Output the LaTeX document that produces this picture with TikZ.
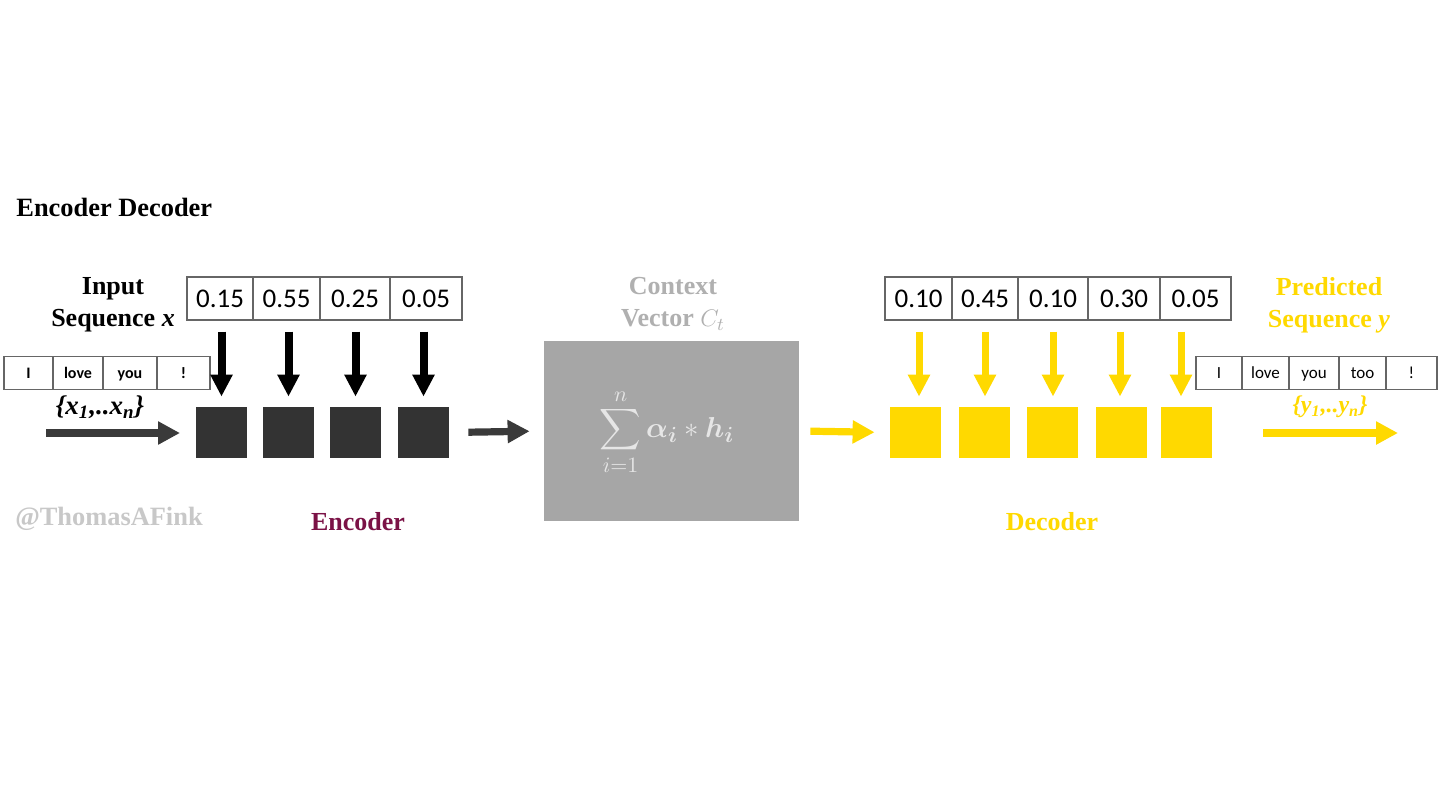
\documentclass[tikz,border=0pt]{standalone}
\usepackage{amsmath,bm}
\usepackage{fontspec}
\setmainfont{Liberation Serif}
\newfontfamily\calib{Carlito}
\usetikzlibrary{arrows.meta}
\definecolor{sqdark}{HTML}{333333}
\definecolor{arrdark}{HTML}{3A3A3A}
\definecolor{ylw}{HTML}{FFD900}
\definecolor{ctxbox}{HTML}{A6A6A6}
\definecolor{ctxtxt}{HTML}{B0B0B0}
\definecolor{formtxt}{HTML}{E6E6E6}
\definecolor{wmark}{HTML}{C8C8C8}
\definecolor{maroon}{HTML}{7B1246}
\definecolor{cellline}{HTML}{666666}
\tikzset{
  valcell/.style={draw=cellline, line width=0.6pt, inner sep=0pt, minimum height=21.5pt, font=\calib\fontsize{13.5}{15}\selectfont, text=black},
  wordcell/.style={draw=cellline, line width=0.6pt, inner sep=0pt, minimum height=16.5pt, text height=1.6ex, text depth=0.45ex, text=black},
  sqbox/.style={inner sep=0pt, minimum width=25.5pt, minimum height=25.5pt},
  bigtxt/.style={font=\bfseries\fontsize{13}{16}\selectfont, align=center},
  darr/.style={line width=4pt, draw=black, -{Triangle[length=11pt, width=10.5pt]}, shorten <=5.5pt, shorten >=5pt},
  yarr/.style={line width=3.5pt, draw=ylw, -{Triangle[length=11pt, width=10.5pt]}, shorten <=5.5pt, shorten >=5pt},
  harr/.style={line width=3.6pt, -{Triangle[length=11pt, width=11pt]}},
}
\begin{document}
\begin{tikzpicture}[x=0.5pt, y=-0.5pt]
\useasboundingbox (0,0) rectangle (1440,810);
\fill[white] (0,0) rectangle (1440,810);

% title
\node[anchor=west, font=\bfseries\fontsize{13.2}{15}\selectfont, inner sep=0pt] (title) at (16,207) {Encoder Decoder};

% input label
\node[bigtxt] (inlab) at (113,305) {Input\\Sequence \textit{x}};

% input words
\node[wordcell, minimum width=24.5pt, font=\calib\bfseries\fontsize{8}{9}\selectfont] (w1) at (28.5,373) {I};
\node[wordcell, minimum width=25pt, font=\calib\bfseries\fontsize{8}{9}\selectfont] (w2) at (78,373) {love};
\node[wordcell, minimum width=27pt, font=\calib\bfseries\fontsize{8}{9}\selectfont] (w3) at (130,373) {you};
\node[wordcell, minimum width=26.5pt, font=\calib\bfseries\fontsize{8}{9}\selectfont] (w4) at (183.5,373) {!};

\node[font=\bfseries\itshape\fontsize{13.5}{15}\selectfont] (xseq) at (100,407) {\{x\textsubscript{1},..x\textsubscript{n}\}};
\coordinate (inA) at (46,433);
\coordinate (inB) at (180,433);
\draw[harr, draw=arrdark] (inA) -- (inB);

% encoder values
\node[valcell, minimum width=33pt] (v1) at (220,298.5) {0.15};
\node[valcell, minimum width=33.5pt] (v2) at (286.5,298.5) {0.55};
\node[valcell, minimum width=35pt] (v3) at (355,298.5) {0.25};
\node[valcell, minimum width=36pt] (v4) at (426,298.5) {0.05};

% encoder squares
\node[sqbox, fill=sqdark] (e1) at (221.5,432.5) {};
\node[sqbox, fill=sqdark] (e2) at (288.5,432.5) {};
\node[sqbox, fill=sqdark] (e3) at (355.5,432.5) {};
\node[sqbox, fill=sqdark] (e4) at (423.5,432.5) {};

\draw[darr] (e1.north |- v1.south) -- (e1.north);
\draw[darr] (e2.north |- v2.south) -- (e2.north);
\draw[darr] (e3.north |- v3.south) -- (e3.north);
\draw[darr] (e4.north |- v4.south) -- (e4.north);

% context
\node[bigtxt, text=ctxtxt] (ctxlab) at (673,304) {Context\\Vector $C_t$};
\node[inner sep=0pt, minimum width=127.5pt, minimum height=90pt, fill=ctxbox] (ctx) at (671.5,431) {};
\node[text=formtxt, font=\fontsize{15}{17}\selectfont] (form) at (667,432) {$\displaystyle\sum_{i=1}^{n}\bm{\alpha_i} * \bm{h_i}$};

\draw[harr, draw=arrdark, shorten <=9.5pt, shorten >=7pt] (e4.east) -- (ctx.west);

% decoder
\node[sqbox, fill=ylw] (d1) at (915.5,432.5) {};
\node[sqbox, fill=ylw] (d2) at (984,432.5) {};
\node[sqbox, fill=ylw] (d3) at (1052.5,432.5) {};
\node[sqbox, fill=ylw] (d4) at (1121.5,432.5) {};
\node[sqbox, fill=ylw] (d5) at (1186.5,432.5) {};

\draw[harr, draw=ylw, shorten <=5.5pt, shorten >=7.5pt] (ctx.east) -- (d1.west);

\node[valcell, minimum width=33.5pt] (u1) at (918.5,298.5) {0.10};
\node[valcell, minimum width=33pt] (u2) at (985,298.5) {0.45};
\node[valcell, minimum width=35pt] (u3) at (1053,298.5) {0.10};
\node[valcell, minimum width=36pt] (u4) at (1124,298.5) {0.30};
\node[valcell, minimum width=35.5pt] (u5) at (1195.5,298.5) {0.05};

\coordinate (a1) at (919,432.5);
\coordinate (a2) at (985,432.5);
\coordinate (a3) at (1053,432.5);
\coordinate (a4) at (1120,432.5);
\coordinate (a5) at (1181,432.5);
\draw[yarr] (a1 |- u1.south) -- (a1 |- d1.north);
\draw[yarr] (a2 |- u2.south) -- (a2 |- d2.north);
\draw[yarr] (a3 |- u3.south) -- (a3 |- d3.north);
\draw[yarr] (a4 |- u4.south) -- (a4 |- d4.north);
\draw[yarr] (a5 |- u5.south) -- (a5 |- d5.north);

% output
\node[bigtxt, text=ylw] (outlab) at (1329,305) {Predicted\\Sequence \textit{y}};
\node[wordcell, minimum width=23pt, font=\calib\fontsize{8.5}{9}\selectfont] (o1) at (1219,373) {I};
\node[wordcell, minimum width=23.5pt, font=\calib\fontsize{8.5}{9}\selectfont] (o2) at (1265.5,373) {love};
\node[wordcell, minimum width=25pt, font=\calib\fontsize{8.5}{9}\selectfont] (o3) at (1314,373) {you};
\node[wordcell, minimum width=23.5pt, font=\calib\fontsize{8.5}{9}\selectfont] (o4) at (1362.5,373) {too};
\node[wordcell, minimum width=25.5pt, font=\calib\fontsize{8.5}{9}\selectfont] (o5) at (1411.5,373) {!};
\node[text=ylw, font=\bfseries\itshape\fontsize{12}{13}\selectfont] (yseq) at (1330,407) {\{y\textsubscript{1},..y\textsubscript{n}\}};
\coordinate (outA) at (1263,433);
\coordinate (outB) at (1398,433);
\draw[harr, draw=ylw] (outA) -- (outB);

% bottom labels
\node[font=\bfseries\fontsize{13.2}{14}\selectfont, text=wmark] (wm) at (109,519) {@ThomasAFink};
\node[font=\bfseries\fontsize{13}{14}\selectfont, text=maroon] (enclab) at (358,522) {Encoder};
\node[font=\bfseries\fontsize{13}{14}\selectfont, text=ylw] (declab) at (1052,522) {Decoder};
\end{tikzpicture}
\end{document}
